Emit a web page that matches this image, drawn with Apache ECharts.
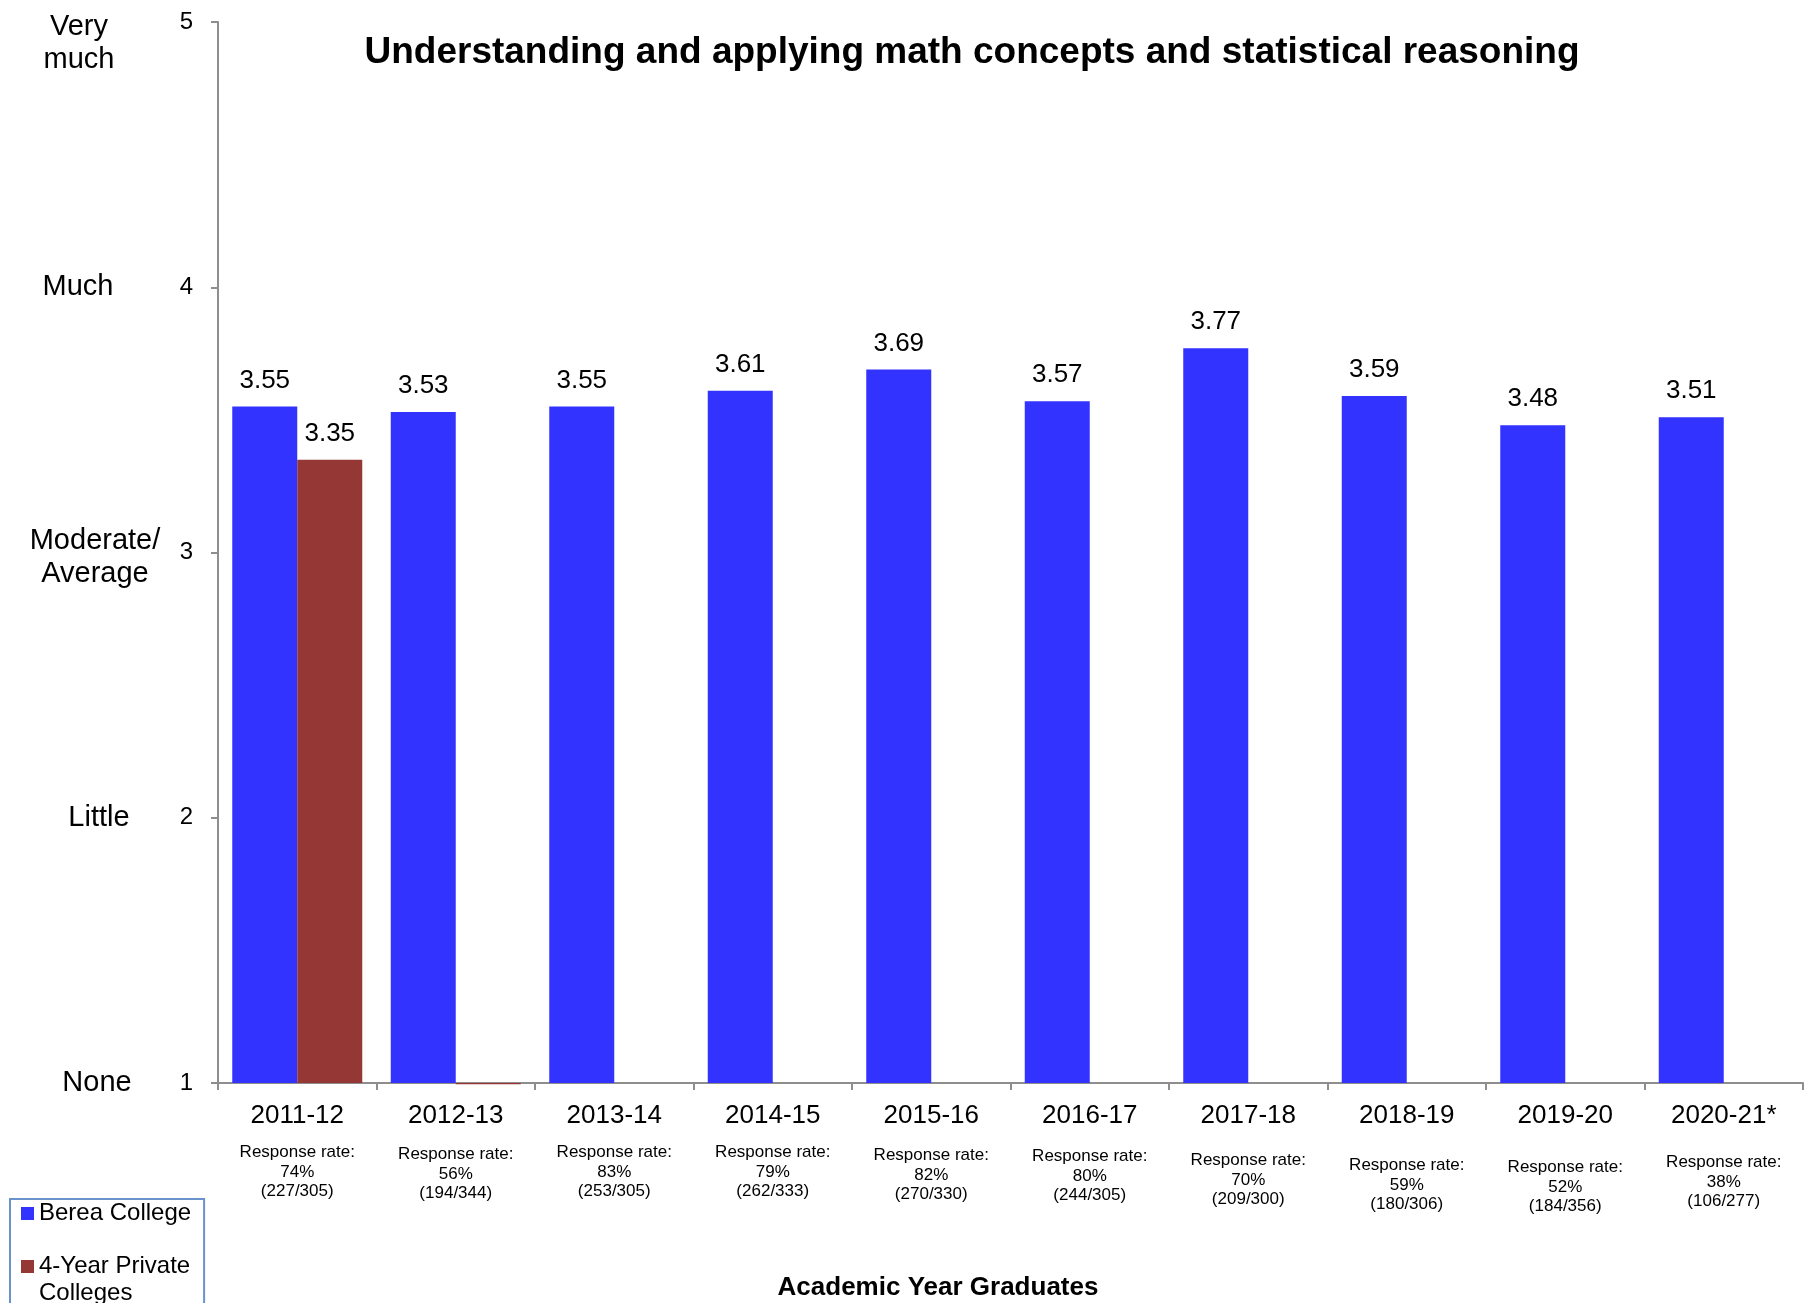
<!DOCTYPE html>
<html><head><meta charset="utf-8">
<script src="https://cdn.jsdelivr.net/npm/echarts@6/dist/echarts.min.js"></script>
<style>html,body{margin:0;padding:0;background:#fff}#c{width:1806px;height:1303px}</style>
</head><body><div id="c"></div>
<script>
const categories = ['2011-12','2012-13','2013-14','2014-15','2015-16','2016-17','2017-18','2018-19','2019-20','2020-21*'];
const bereaValues = [3.55,3.53,3.55,3.61,3.69,3.57,3.77,3.59,3.48,3.51];
const privateValues = [3.35,0.995,null,null,null,null,null,null,null,null];
const responseRates = ['74%','56%','83%','79%','82%','80%','70%','59%','52%','38%'];
const responseCounts = ['(227/305)','(194/344)','(253/305)','(262/333)','(270/330)','(244/305)','(209/300)','(180/306)','(184/356)','(106/277)'];
const yTickValues = [1,2,3,4,5];
const yWordLabels = ['None','Little','Moderate/\nAverage','Much','Very\nmuch'];
const seriesNames = ['Berea College','4-Year Private Colleges'];
const titleText = 'Understanding and applying math concepts and statistical reasoning';
const xAxisTitle = 'Academic Year Graduates';

// layout-only styling
const FONT = '"Liberation Sans", Arial, Helvetica, sans-serif';
const respOffsets = [0,2,0,0,3,4,8,13,15,10];
const wordWidths = [162,158,166,200,198];
const wordTopPad = [0,0,10,0,0];
const AXIS_GRAY = '#8e8e8e';

const xRich = {
  c: {fontSize: 26, lineHeight: 30, color: '#000', fontFamily: FONT},
  r: {fontSize: 17, lineHeight: 19.5, color: '#000', fontFamily: FONT}
};
respOffsets.forEach((o, i) => { xRich['s' + i] = {fontSize: 1, lineHeight: 12 + o}; });

const yRich = {e: {fontSize: 1, lineHeight: 43}, m: {fontSize: 1, lineHeight: 10}};
wordWidths.forEach((w, i) => {
  yRich['w' + i] = {width: w, align: 'center', fontSize: 29, lineHeight: 33, color: '#000', fontFamily: FONT};
});

const chart = echarts.init(document.getElementById('c'), null, {renderer: 'canvas'});
chart.setOption({
  backgroundColor: '#fff',
  animation: false,
  textStyle: {fontFamily: FONT},
  title: [
    {text: titleText, left: 972, top: 33, textAlign: 'center', padding: 0,
     textStyle: {fontSize: 37, fontWeight: 'bold', lineHeight: 40, color: '#000', fontFamily: FONT}},
    {text: xAxisTitle, left: 938, top: 1274, textAlign: 'center', padding: 0,
     textStyle: {fontSize: 26, fontWeight: 'bold', lineHeight: 28, color: '#000', fontFamily: FONT}}
  ],
  legend: {
    orient: 'vertical', left: 10, top: 1199, height: 400,
    icon: 'rect', itemWidth: 13, itemHeight: 13, itemGap: -1,
    padding: [1, 13, 30, 11],
    borderColor: '#6a93cc', borderWidth: 2,
    textStyle: {fontSize: 24, lineHeight: 27, color: '#000', fontFamily: FONT},
    formatter: n => n.indexOf('Private ') >= 0 ? '\n' + n.replace('Private ', 'Private\n') : n,
    data: [{name: seriesNames[0]}, {name: seriesNames[1]}]
  },
  grid: {left: 218, right: 3, top: 22, bottom: 220, containLabel: false, outerBoundsMode: 'none'},
  xAxis: {
    type: 'category', data: categories,
    axisLine: {show: true, lineStyle: {color: AXIS_GRAY, width: 2}},
    axisTick: {show: true, length: 7, interval: 0, lineStyle: {color: AXIS_GRAY, width: 2}},
    axisLabel: {
      interval: 0, margin: 18,
      formatter: (v, i) => `{c|${v}}\n{s${i}| }\n{r|Response rate:}\n{r|${responseRates[i]}}\n{r|${responseCounts[i]}}`,
      rich: xRich
    },
    splitLine: {show: false}
  },
  yAxis: [
    {
      type: 'value', min: yTickValues[0], max: yTickValues[yTickValues.length - 1], interval: 1, startValue: 1,
      position: 'left',
      axisLine: {show: true, lineStyle: {color: AXIS_GRAY, width: 2}},
      axisTick: {show: true, length: 7, lineStyle: {color: AXIS_GRAY, width: 2}},
      axisLabel: {fontSize: 24, color: '#000', margin: 25, fontFamily: FONT},
      splitLine: {show: false}
    },
    {
      type: 'value', min: yTickValues[0], max: yTickValues[yTickValues.length - 1], interval: 1,
      position: 'left', offset: 0,
      axisLine: {show: false}, axisTick: {show: false}, splitLine: {show: false},
      axisLabel: {
        margin: 40,
        formatter: v => {
          const i = yTickValues.indexOf(v);
          if (i < 0) return '';
          const lines = yWordLabels[i].split('\n').map(t => `{w${i}|${t}}`);
          let pre = '';
          if (i === yTickValues.length - 1) pre = '{e| }\n';
          else if (wordTopPad[i]) pre = '{m| }\n';
          return pre + lines.join('\n');
        },
        rich: yRich
      }
    }
  ],
  series: [
    {
      name: seriesNames[0], type: 'bar', barWidth: 65, barGap: '0%',
      itemStyle: {color: '#3333ff'},
      label: {show: true, position: 'top', distance: 13, fontSize: 26, color: '#000', fontFamily: FONT,
              formatter: p => Number(p.value).toFixed(2)},
      data: bereaValues
    },
    {
      name: seriesNames[1], type: 'bar', barWidth: 65, barGap: '0%', clip: false,
      itemStyle: {color: '#953735'},
      label: {show: true, position: 'top', distance: 13, fontSize: 26, color: '#000', fontFamily: FONT,
              formatter: p => Number(p.value).toFixed(2)},
      data: privateValues.map(v => (v !== null && v <= 1) ? {value: v, label: {show: false}} : v)
    }
  ]
});
</script></body></html>
